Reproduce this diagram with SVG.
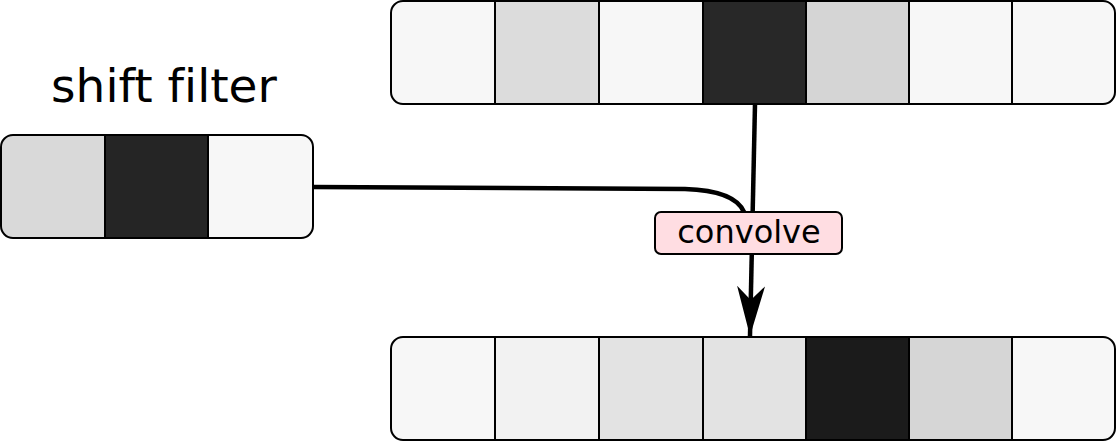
<svg xmlns="http://www.w3.org/2000/svg" width="1117" height="442" viewBox="0 0 1117 442">
<style>
.cell{stroke:#000;stroke-width:2}
.frame{fill:none;stroke:#000;stroke-width:2}
.conn{fill:none;stroke:#000;stroke-width:4.5}
.lbl{font-family:"DejaVu Sans",sans-serif;fill:#000;font-variant-ligatures:none;font-feature-settings:"liga" 0}
</style>
<defs>
<clipPath id="cTop"><rect x="391" y="1" width="724" height="103" rx="12"/></clipPath>
<clipPath id="cBot"><rect x="391" y="337" width="724" height="103" rx="12"/></clipPath>
<clipPath id="cFil"><rect x="1" y="135" width="312" height="103" rx="12"/></clipPath>
<marker id="arr" viewBox="0 0 50 28" refX="50" refY="14" markerWidth="50" markerHeight="28" markerUnits="userSpaceOnUse" orient="auto">
<path d="M0,0 L50,14 L0,28 L14,14 Z" fill="#000"/>
</marker>
</defs>
<g id="input">
<g clip-path="url(#cTop)">
<rect class="cell" x="391" y="1" width="104" height="103" fill="#f7f7f7"/>
<rect class="cell" x="495" y="1" width="104" height="103" fill="#dcdcdc"/>
<rect class="cell" x="599" y="1" width="104" height="103" fill="#f7f7f7"/>
<rect class="cell" x="703" y="1" width="103" height="103" fill="#282828"/>
<rect class="cell" x="806" y="1" width="103" height="103" fill="#d5d5d5"/>
<rect class="cell" x="909" y="1" width="103" height="103" fill="#f7f7f7"/>
<rect class="cell" x="1012" y="1" width="103" height="103" fill="#f7f7f7"/>
</g>
<rect class="frame" x="391" y="1" width="724" height="103" rx="12"/>
</g>
<g id="filter">
<text class="lbl" x="164" y="102" font-size="47" text-anchor="middle">shift filter</text>
<g clip-path="url(#cFil)">
<rect class="cell" x="1" y="135" width="104" height="103" fill="#d9d9d9"/>
<rect class="cell" x="105" y="135" width="103" height="103" fill="#252525"/>
<rect class="cell" x="208" y="135" width="105" height="103" fill="#f7f7f7"/>
</g>
<rect class="frame" x="1" y="135" width="312" height="103" rx="12"/>
</g>
<g id="output">
<g clip-path="url(#cBot)">
<rect class="cell" x="391" y="337" width="104" height="103" fill="#f7f7f7"/>
<rect class="cell" x="495" y="337" width="104" height="103" fill="#f2f2f2"/>
<rect class="cell" x="599" y="337" width="104" height="103" fill="#e3e3e3"/>
<rect class="cell" x="703" y="337" width="103" height="103" fill="#e3e3e3"/>
<rect class="cell" x="806" y="337" width="103" height="103" fill="#1b1b1b"/>
<rect class="cell" x="909" y="337" width="103" height="103" fill="#d6d6d6"/>
<rect class="cell" x="1012" y="337" width="103" height="103" fill="#f7f7f7"/>
</g>
<rect class="frame" x="391" y="337" width="724" height="103" rx="12"/>
</g>
<g id="connectors">
<path class="conn" d="M313,187 L685,189 C718,190 738,198 744,212"/>
<path class="conn" d="M755,104 L750,336" marker-end="url(#arr)"/>
</g>
<g id="convolve">
<rect x="655" y="212" width="187" height="42" rx="6" fill="#ffdde2" stroke="#000" stroke-width="2"/>
<text class="lbl" x="749" y="243" font-size="32" text-anchor="middle">convolve</text>
</g>
</svg>
